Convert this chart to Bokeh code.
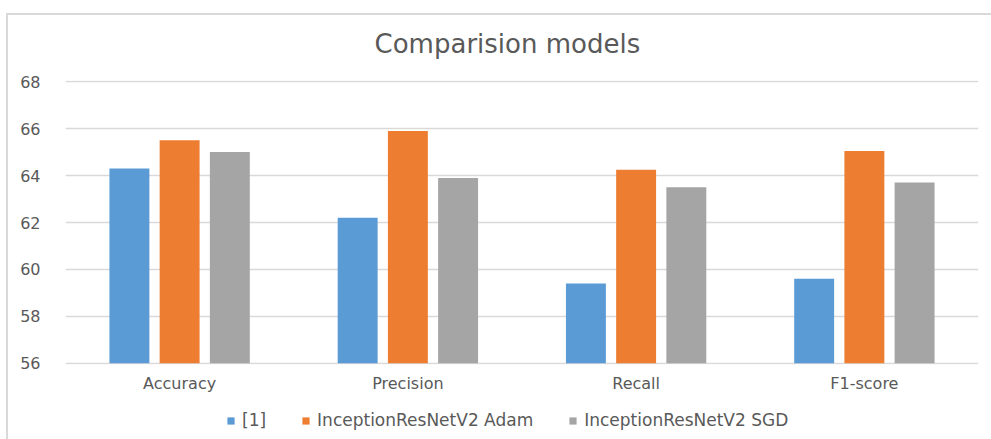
from bokeh.plotting import figure
from bokeh.layouts import column
from bokeh.core.properties import value
from bokeh.models import FactorRange, Range1d, FixedTicker, Legend, LegendItem, ColumnDataSource
from bokeh.transform import dodge
from bokeh.embed import file_html
from bokeh.resources import INLINE

# Metrics compared across the three models
metrics = ["Accuracy", "Precision", "Recall", "F1-score"]
series_names = ["[1]", "InceptionResNetV2 Adam", "InceptionResNetV2 SGD"]
ref1 = [64.3, 62.2, 59.4, 59.6]
adam = [65.5, 65.9, 64.25, 65.05]
sgd = [65.0, 63.9, 63.5, 63.7]
y_ticks = [56, 58, 60, 62, 64, 66, 68]
chart_title = "Comparision models"

colors = ["#5B9BD5", "#ED7D31", "#A5A5A5"]
FONT = "DejaVu Sans"
TEXT = "#595959"


def strip(height):
    """Axis-less helper figure used for the heading and the legend rows."""
    f = figure(
        width=983, height=height,
        x_range=Range1d(0, 1), y_range=Range1d(0, 1),
        x_axis_location=None, y_axis_location=None,
        output_backend="svg", toolbar_location=None, min_border=0,
    )
    f.grid.visible = False
    f.outline_line_color = None
    f.background_fill_color = "white"
    f.border_fill_color = "white"
    return f


# heading row
t = strip(50)
t.text(x=[0.484], y=[0.43], text=[chart_title], text_align="center", text_baseline="middle",
       text_font=value(FONT), text_font_size="26px", text_color=TEXT)

# main bar chart
source = ColumnDataSource(dict(metric=metrics, ref1=ref1, adam=adam, sgd=sgd))
p = figure(
    width=983, height=342,
    x_range=FactorRange(*metrics, range_padding=0),
    y_range=Range1d(55.95, 68.05),
    output_backend="svg", toolbar_location=None,
    min_border_left=57, min_border_right=13,
    min_border_top=15, min_border_bottom=43,
)
p.outline_line_color = None
p.background_fill_color = "white"
p.border_fill_color = "white"

offsets = [-0.22, 0.0, 0.22]
fields = ["ref1", "adam", "sgd"]
for f, off, c in zip(fields, offsets, colors):
    p.vbar(x=dodge("metric", off, range=p.x_range), top=f, bottom=56,
           width=0.175, source=source, fill_color=c, line_color=None)

p.yaxis.ticker = FixedTicker(ticks=y_ticks)
p.yaxis.axis_line_color = None
p.yaxis.major_tick_line_color = None
p.yaxis.minor_tick_line_color = None
p.yaxis.major_label_standoff = 19
p.yaxis.major_label_text_font = FONT
p.yaxis.major_label_text_font_size = "16px"
p.yaxis.major_label_text_color = TEXT

p.xaxis.axis_line_color = None
p.xaxis.major_tick_line_color = None
p.xaxis.major_tick_out = 0
p.xaxis.major_label_standoff = 9
p.xaxis.major_label_text_font = FONT
p.xaxis.major_label_text_font_size = "16px"
p.xaxis.major_label_text_color = TEXT

p.xgrid.grid_line_color = None
p.ygrid.grid_line_color = "#D9D9D9"
p.ygrid.grid_line_width = 1.5

# legend row: swatch renderers sit outside the visible range
lg = strip(32)
swatch_src = ColumnDataSource(dict(x=[-1.0], top=[-1.0]))
swatches = [lg.vbar(x="x", top="top", width=0.1, source=swatch_src, fill_color=c, line_color=None)
            for c in colors]

legend = Legend(
    items=[LegendItem(label=n, renderers=[r]) for n, r in zip(series_names, swatches)],
    orientation="horizontal",
    location=(161, 9),
    glyph_width=9, glyph_height=9,
    label_standoff=7, spacing=35,
    label_text_font=FONT, label_text_font_size="17px", label_text_color=TEXT,
    border_line_color=None, background_fill_alpha=0,
    padding=0, margin=0,
)
lg.add_layout(legend)

layout = column(t, p, lg, spacing=0)
layout.styles = {"border-top": "2px solid #d9d9d9", "border-left": "2px solid #d9d9d9"}
layout.margin = (13, 0, 0, 6)

open("out.html", "w").write(file_html(layout, INLINE))
